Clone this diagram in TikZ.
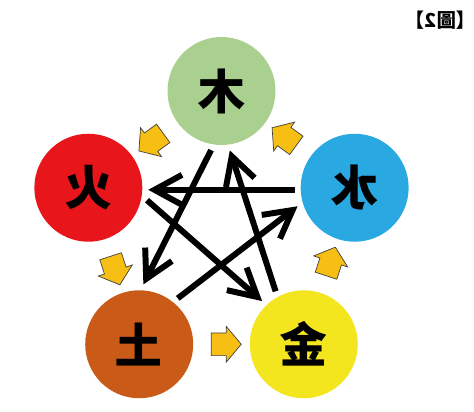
\documentclass[tikz,border=0pt]{standalone}
\usepackage{fontspec}
\newfontfamily\cjk{Noto Sans CJK TC}
\usetikzlibrary{arrows.meta,shapes.arrows,calc}
\definecolor{mucol}{RGB}{169,208,142}
\definecolor{huocol}{RGB}{232,22,27}
\definecolor{shuicol}{RGB}{42,168,225}
\definecolor{tucol}{RGB}{201,90,24}
\definecolor{jincol}{RGB}{243,230,30}
\definecolor{shengcol}{RGB}{247,190,20}
\tikzset{
  wx/.style={circle, minimum size=21.6mm, inner sep=0pt, outer sep=1.2mm,
    font=\cjk\fontsize{27}{27}\bfseries},
  sheng/.style={single arrow, fill=shengcol, draw=black!75, line width=0.4pt,
    minimum height=6mm, single arrow head extend=1.3mm,
    inner xsep=0pt, inner ysep=2.2mm, single arrow tip angle=100},
  ke/.style={line width=3.4pt, -{Straight Barb[length=5.5mm,width=6mm]}}
}
\begin{document}
\begin{tikzpicture}[x=0.02cm, y=0.02cm]
      \path[use as bounding box, fill=white] (-221.5,-181) rectangle (252.5,231);
      \draw
        (90:140) node[wx, fill=mucol] (mu){\reflectbox{木}}
        (162:140) node[wx, fill=huocol] (huo){\reflectbox{火}}
        (234:140) node[wx, fill=tucol] (tu){\reflectbox{土}}
        (306:140) node[wx, fill=jincol] (jin){\reflectbox{金}}
        (18:140) node[wx, fill=shuicol] (shui){\reflectbox{水}};
      \node[font=\cjk\fontsize{11}{11}\bfseries] (fig) at (219,211) {\reflectbox{【圖2】}};
      % sheng cycle
      \node[sheng, rotate=216] (s1) at ($(mu)!.5!(huo)$) {};
      \node[sheng, rotate=288] (s2) at ($(huo)!.5!(tu)$) {};
      \node[sheng, rotate=0] (s3) at ($(tu)!.5!(jin)$) {};
      \node[sheng, rotate=72] (s4) at ($(jin)!.5!(shui)$) {};
      \node[sheng, rotate=144] (s5) at ($(shui)!.5!(mu)$) {};
      % ke cycle
      \begin{scope}[ke]
        \draw (shui.182) to (huo.-2);
        \draw (huo.-12) to (jin.134);
        \draw (tu.50) to (shui.198);
        \draw (jin.118) to (mu.278);
        \draw (mu.260) to (tu.86);
      \end{scope}
    \end{tikzpicture}
\end{document}
